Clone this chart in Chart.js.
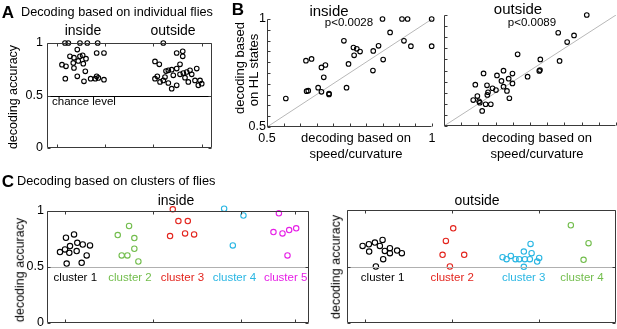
<!DOCTYPE html>
<html>
<head>
<meta charset="utf-8">
<script src="https://cdn.jsdelivr.net/npm/chart.js@4.4.1/dist/chart.umd.min.js"></script>
<style>
html, body { margin: 0; padding: 0; background: #fff; overflow: hidden; width: 617px; height: 329px; position: relative; font-family: 'Liberation Sans', Arial, sans-serif; }
canvas { position: absolute; }
.t { position: absolute; white-space: nowrap; color: #000; line-height: 1; }
</style>
</head>
<body>
<script>
// ---------- data ----------
// A: individual flies (x = jitter position, y = decoding accuracy)
const aTicksX = [1, 2, 3, 4];
const aTicksY = [0, 0.5, 1];
const aInsideX = [1.172, 1.241, 1.482, 1.634, 1.849, 1.427, 1.828, 1.979, 1.275, 1.358, 1.482, 1.538, 1.607, 1.110, 1.193, 1.344, 1.447, 1.551, 1.358, 1.593, 1.179, 1.427, 1.565, 1.704, 1.828, 1.862, 1.979, 1.799];
const aInsideY = [1.0, 1.0, 1.0, 1.0, 1.0, 0.937, 0.905, 0.905, 0.873, 0.860, 0.873, 0.883, 0.851, 0.794, 0.778, 0.810, 0.829, 0.803, 0.762, 0.730, 0.660, 0.683, 0.635, 0.660, 0.683, 0.667, 0.651, 0.660];
const aOutsideX = [3.207, 3.484, 3.609, 3.609, 3.035, 3.124, 3.553, 3.484, 3.311, 3.381, 3.263, 3.035, 3.083, 3.139, 3.207, 3.242, 3.311, 3.381, 3.484, 3.414, 3.553, 3.656, 3.691, 3.760, 3.795, 3.725, 3.899, 3.863, 3.967, 3.932, 4.002, 3.621];
const aOutsideY = [1.0, 0.905, 0.921, 0.873, 0.825, 0.797, 0.797, 0.756, 0.740, 0.746, 0.733, 0.660, 0.683, 0.629, 0.644, 0.676, 0.619, 0.565, 0.597, 0.692, 0.702, 0.670, 0.724, 0.740, 0.702, 0.629, 0.756, 0.644, 0.644, 0.597, 0.613, 0.714];
const aTickLabels = ['0', '0.5', '1'];
const chanceLevel = 0.5;

// B: speed/curvature (x) vs HL states (y)
const bTickVals = [0.5, 0.55, 0.6, 0.65, 0.7, 0.75, 0.8, 0.85, 0.9, 0.95, 1];
const bTickLabels = ['0.5', '', '', '', '', '', '', '', '', '', '1'];
const bInsideX = [0.557, 0.620, 0.625, 0.618, 0.635, 0.655, 0.665, 0.665, 0.677, 0.672, 0.688, 0.688, 0.733, 0.741, 0.747, 0.762, 0.764, 0.772, 0.782, 0.821, 0.822, 0.838, 0.850, 0.852, 0.873, 0.909, 0.926, 0.915, 0.936, 0.999, 0.999];
const bInsideY = [0.632, 0.666, 0.668, 0.807, 0.815, 0.682, 0.663, 0.776, 0.787, 0.730, 0.655, 0.651, 0.899, 0.682, 0.792, 0.868, 0.832, 0.862, 0.849, 0.761, 0.852, 0.876, 1.0, 0.812, 0.938, 1.0, 1.0, 0.899, 0.874, 1.0, 0.874];
const bOutsideX = [0.915, 0.832, 0.878, 0.858, 0.836, 0.780, 0.779, 0.777, 0.714, 0.743, 0.673, 0.699, 0.699, 0.688, 0.667, 0.654, 0.615, 0.673, 0.683, 0.690, 0.651, 0.641, 0.625, 0.591, 0.628, 0.626, 0.597, 0.602, 0.604, 0.585, 0.621, 0.636, 0.611];
const bOutsideY = [1.0, 0.920, 0.908, 0.878, 0.793, 0.800, 0.752, 0.748, 0.823, 0.722, 0.749, 0.736, 0.692, 0.713, 0.703, 0.728, 0.737, 0.677, 0.658, 0.625, 0.662, 0.670, 0.683, 0.686, 0.652, 0.640, 0.635, 0.611, 0.605, 0.617, 0.598, 0.598, 0.568];

// C: clusters of flies
const cTicksInside = [1, 2, 3, 3.62];
const cTicksOutside = [1, 2, 3];
const cInsideLabels = ['cluster 1', 'cluster 2', 'cluster 3', 'cluster 4', 'cluster 5'];
const cInsideX = [
  [0.943, 1.0, 1.057, 1.011, 1.103, 1.140, 1.049, 1.133, 1.202, 1.285, 1.247, 1.190, 1.019],
  [1.601, 1.730, 1.790, 1.790, 1.646, 1.711, 1.836],
  [2.228, 2.292, 2.399, 2.197, 2.368, 2.471],
  [2.813, 3.033, 2.912],
  [3.437, 3.375, 3.478, 3.554, 3.634, 3.535]
];
const cInsideY = [
  [0.633, 0.657, 0.687, 0.761, 0.791, 0.716, 0.627, 0.642, 0.701, 0.693, 0.603, 0.537, 0.531],
  [0.785, 0.866, 0.758, 0.663, 0.603, 0.603, 0.549],
  [1.015, 0.91, 0.91, 0.776, 0.8, 0.791],
  [1.02, 0.96, 0.693],
  [0.979, 0.812, 0.8, 0.83, 0.845, 0.603]
];
const cOutsideLabels = ['cluster 1', 'cluster 2', 'cluster 3', 'cluster 4'];
const cOutsideX = [
  [0.974, 1.046, 1.115, 1.203, 1.172, 1.049, 1.229, 1.287, 1.287, 1.370, 1.424, 1.210, 1.126],
  [2.013, 1.929, 1.891, 2.139, 1.975],
  [2.579, 2.625, 2.674, 2.728, 2.770, 2.823, 2.900, 2.835, 2.912, 2.892, 2.999, 2.976, 2.823],
  [3.362, 3.565, 3.508]
];
const cOutsideY = [
  [0.682, 0.697, 0.712, 0.735, 0.682, 0.632, 0.638, 0.662, 0.618, 0.641, 0.618, 0.565, 0.5],
  [0.838, 0.726, 0.603, 0.603, 0.5],
  [0.582, 0.565, 0.594, 0.565, 0.565, 0.632, 0.7, 0.565, 0.618, 0.565, 0.576, 0.544, 0.497],
  [0.865, 0.706, 0.559]
];

// ---------- styles ----------
const FONT = "'Liberation Sans', Arial, sans-serif";
const BLACK = '#000000', GREEN = '#72bd4c', RED = '#e3241d', CYAN = '#29b6e3', MAGENTA = '#e61ee6';
const cInsideColors = [BLACK, GREEN, RED, CYAN, MAGENTA];
const cOutsideColors = [BLACK, RED, CYAN, GREEN];
const AXIS = '#3a3a3a';
const PAD = 40;     // space around every plot box
const YW = 34;      // width kept for y tick labels
const XH = 22;      // height kept for x tick labels

function zip(xs, ys) { return xs.map((x, i) => ({ x: x, y: ys[i] })); }

function makeCtx(box) {
  const c = document.createElement('canvas');
  c.width = box.w + 2 * PAD;
  c.height = box.h + 2 * PAD;
  c.style.left = (box.x - PAD) + 'px';
  c.style.top = (box.y - PAD) + 'px';
  document.body.appendChild(c);
  return c.getContext('2d');
}

function text(str, x, y, size, opt) {
  opt = opt || {};
  const d = document.createElement('div');
  d.className = 't';
  d.textContent = str;
  d.style.fontSize = size + 'px';
  if (opt.bold) d.style.fontWeight = 'bold';
  if (opt.color) d.style.color = opt.color;
  d.style.left = x + 'px';
  d.style.top = y + 'px';
  let tr = opt.left ? 'translate(0,-50%)' : 'translate(-50%,-50%)';
  if (opt.rot) tr += ' rotate(-90deg)';
  d.style.transform = tr;
  document.body.appendChild(d);
}

function scale(min, max, tickVals, labels, pad) {
  return {
    type: 'linear', min: min, max: max,
    grid: { display: false, drawTicks: false },
    border: { display: false },
    afterBuildTicks: s => { s.ticks = tickVals.map(v => ({ value: v })); },
    afterFit: s => { if (s.isHorizontal()) s.height = XH; else s.width = YW; },
    ticks: {
      display: !!labels, padding: pad || 5, color: '#000', autoSkip: false, maxRotation: 0,
      font: { family: FONT, size: 12.5 },
      callback: (v, i) => labels ? labels[i] : ''
    }
  };
}

// frame, inner ticks, reference line and cluster labels
const framePlugin = {
  id: 'frame',
  afterDatasetsDraw(chart, args, o) {
    const { ctx, chartArea: a, scales: { x, y } } = chart;
    const L = Math.round(a.left) + 0.5, R = Math.round(a.right) - 0.5;
    const T = Math.round(a.top) + 0.5, B = Math.round(a.bottom) - 0.5;
    const len = o.len || 3;
    ctx.save();
    if (o.hline !== undefined) {
      const hy = Math.round(y.getPixelForValue(o.hline)) + 0.5;
      ctx.strokeStyle = o.hcolor; ctx.lineWidth = 1;
      ctx.beginPath(); ctx.moveTo(L, hy); ctx.lineTo(R, hy); ctx.stroke();
    }
    ctx.strokeStyle = AXIS; ctx.lineWidth = 1;
    ctx.beginPath();
    ctx.moveTo(L, T); ctx.lineTo(L, B); ctx.lineTo(R, B);
    if (o.box) { ctx.lineTo(R, T); ctx.lineTo(L, T); }
    x.ticks.forEach(t => {
      const px = Math.round(x.getPixelForValue(t.value)) + 0.5;
      ctx.moveTo(px, B); ctx.lineTo(px, B - len);
      if (o.box) { ctx.moveTo(px, T); ctx.lineTo(px, T + len); }
    });
    y.ticks.forEach(t => {
      const py = Math.round(y.getPixelForValue(t.value)) + 0.5;
      ctx.moveTo(L, py); ctx.lineTo(L + len, py);
      if (o.box) { ctx.moveTo(R, py); ctx.lineTo(R - len, py); }
    });
    ctx.stroke();
    if (o.labels) {
      ctx.font = '11.5px ' + FONT;
      ctx.textAlign = 'center'; ctx.textBaseline = 'middle';
      const ly = y.getPixelForValue(o.hline) + 11;
      o.labels.forEach((lab, i) => {
        const xs = o.groupX[i];
        const mx = xs.reduce((s, v) => s + v, 0) / xs.length;
        ctx.fillStyle = o.labelColors[i];
        ctx.fillText(lab, x.getPixelForValue(mx) + 1, ly);
      });
    }
    ctx.restore();
  }
};

function ptSet(data, color, r) {
  return {
    type: 'scatter', data: data, clip: false,
    pointStyle: 'circle', pointRadius: r, pointHoverRadius: r,
    borderColor: color, backgroundColor: 'rgba(0,0,0,0)', pointBorderWidth: 1.1, borderWidth: 1.1
  };
}

function diag(lo, hi) {
  return {
    type: 'line', data: [{ x: lo, y: lo }, { x: hi, y: hi }],
    borderColor: '#b8b8b8', borderWidth: 1, pointRadius: 0, order: 5
  };
}

function build(box, datasets, scales, frame) {
  return new Chart(makeCtx(box), {
    type: 'scatter',
    data: { datasets: datasets },
    options: {
      responsive: false, animation: false,
      layout: { padding: { left: PAD - YW, right: PAD, top: PAD, bottom: PAD - XH } },
      scales: scales,
      plugins: { legend: { display: false }, tooltip: { enabled: false }, frame: frame }
    },
    plugins: [framePlugin]
  });
}

// ---------- A ----------
build({ x: 47, y: 43, w: 165, h: 105 },
  [ptSet(zip(aInsideX, aInsideY), BLACK, 2.3), ptSet(zip(aOutsideX, aOutsideY), BLACK, 2.3)],
  { x: scale(0.8, 4.215, aTicksX, null), y: scale(0, 1, aTicksY, aTickLabels, 4) },
  { box: true, hline: chanceLevel, hcolor: '#000' });

// ---------- B ----------
build({ x: 267, y: 19, w: 165, h: 108 },
  [ptSet(zip(bInsideX, bInsideY), BLACK, 2.3), diag(0.5, 1)],
  { x: scale(0.5, 1, bTickVals, bTickLabels, 4), y: scale(0.5, 1, bTickVals, bTickLabels, 1) },
  { box: false });
build({ x: 444, y: 15, w: 172, h: 111 },
  [ptSet(zip(bOutsideX, bOutsideY), BLACK, 2.3), diag(0.5, 1)],
  { x: scale(0.5, 1, bTickVals, null), y: scale(0.5, 1, bTickVals, null) },
  { box: false });

// ---------- C ----------
build({ x: 47, y: 211, w: 262, h: 112 },
  cInsideX.map((xs, i) => ptSet(zip(xs, cInsideY[i]), cInsideColors[i], 2.7)),
  { x: scale(0.795, 3.78, cTicksInside, null), y: scale(0, 1, aTicksY, aTickLabels, 3) },
  { box: true, hline: chanceLevel, hcolor: '#b0b0b0', labels: cInsideLabels, groupX: cInsideX, labelColors: cInsideColors });
build({ x: 347, y: 210, w: 269, h: 113 },
  cOutsideX.map((xs, i) => ptSet(zip(xs, cOutsideY[i]), cOutsideColors[i], 2.7)),
  { x: scale(0.795, 3.88, cTicksOutside, null), y: scale(0, 1, aTicksY, null) },
  { box: true, hline: chanceLevel, hcolor: '#b0b0b0', labels: cOutsideLabels, groupX: cOutsideX, labelColors: cOutsideColors });

// ---------- texts ----------
text('A', 8, 12, 17, { bold: true });
text('Decoding based on individual flies', 21, 12, 12.7, { left: true });
text('inside', 83, 30, 14);
text('outside', 173, 30, 14);
text('decoding accuracy', 13, 97, 12.5, { rot: true });
text('chance level', 52, 102, 11.5, { left: true });

text('B', 238, 9, 17, { bold: true });
text('inside', 329, 10, 15);
text('p<0.0028', 349, 23, 11.5);
text('outside', 518, 8, 15);
text('p<0.0089', 532, 23, 11.5);
text('decoding based', 239, 68, 13, { rot: true });
text('on HL states', 253, 70, 13, { rot: true });
text('decoding based on', 356, 137, 13);
text('speed/curvature', 356, 153, 13);
text('decoding based on', 537, 137, 13);
text('speed/curvature', 537, 153, 13);

text('C', 8, 181, 17, { bold: true });
text('Decoding based on clusters of flies', 17, 181, 12.8, { left: true });
text('inside', 176, 200, 14);
text('outside', 477, 200, 14);
text('decoding accuracy', 20, 270, 12.5, { rot: true });
text('decoding accuracy', 336, 267, 12.5, { rot: true });
</script>
</body>
</html>
